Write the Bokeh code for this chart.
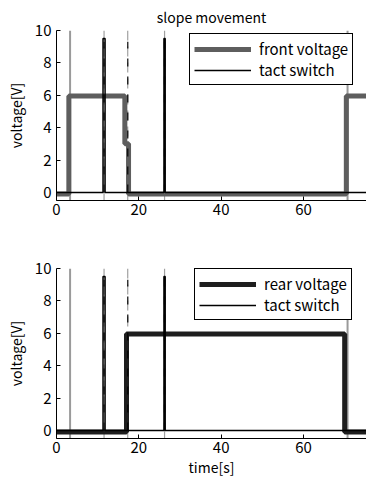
from bokeh.plotting import figure
from bokeh.layouts import column
from bokeh.models import Range1d, Legend, LegendItem, FixedTicker
from bokeh.embed import file_html
from bokeh.resources import INLINE

# ---- data ----
front_t = [0, 3.0, 3.0, 16.6, 16.6, 17.5, 17.5, 70.4, 70.4, 76]
front_v = [-0.1, -0.1, 5.95, 5.95, 3.0, 3.0, -0.1, -0.1, 5.95, 5.95]

rear_t = [0, 17.0, 17.0, 70.0, 70.0, 76]
rear_v = [-0.1, -0.1, 5.95, 5.95, -0.1, -0.1]

tact_t = [0, 11.3, 11.3, 11.8, 11.8, 26.1, 26.1, 26.4, 26.4, 76]
tact_v = [0, 0, 9.5, 9.5, 0, 0, 9.5, 9.5, 0, 0]

solid_marks = [3.3, 70.7]            # gray solid reference lines
dashed_marks = [11.55, 17.3, 26.25]  # gray dashed reference lines

x_ticks = [0, 20, 40, 60]
y_ticks = [0, 2, 4, 6, 8, 10]
x_lim = (0, 75.3)
y_lim = (-0.5, 10)

FONT = "Noto Sans CJK JP"


def make_panel(title, volt_t, volt_v, volt_label, volt_color, show_xlabel,
               height, border_bottom, legend_loc):
    p = figure(width=366, height=height, output_backend="svg", toolbar_location=None,
               x_range=Range1d(*x_lim), y_range=Range1d(*y_lim),
               min_border_left=56, min_border_right=0, min_border_top=30,
               min_border_bottom=border_bottom)
    p.frame_width = 310
    p.frame_height = 170
    p.outline_line_color = None
    p.grid.visible = False
    p.background_fill_color = "white"
    p.border_fill_color = "white"
    if title:
        p.title.text = title
        p.title.align = "center"
        p.title.text_font = FONT
        p.title.text_font_size = "14px"
        p.title.text_font_style = "normal"
        p.title.text_color = "black"
        p.title.offset = 0
        p.title.standoff = 7
    for ax in (p.xaxis[0], p.yaxis[0]):
        ax.major_tick_in = 4
        ax.major_tick_out = 0
        ax.minor_tick_line_color = None
        ax.major_label_text_font = FONT
        ax.major_label_text_font_size = "15px"
        ax.major_label_text_color = "black"
        ax.axis_line_color = "black"
        ax.major_tick_line_color = "black"
        ax.axis_label_text_font = FONT
        ax.axis_label_text_font_size = "14px"
        ax.axis_label_text_font_style = "normal"
        ax.axis_label_text_color = "black"
    p.xaxis.ticker = FixedTicker(ticks=x_ticks)
    p.yaxis.ticker = FixedTicker(ticks=y_ticks)
    p.yaxis.axis_label = "voltage[V]"
    p.yaxis.axis_label_standoff = 6
    p.yaxis.major_label_standoff = 5
    p.xaxis.major_label_standoff = 3
    if show_xlabel:
        p.xaxis.axis_label = "time[s]"
        p.xaxis.axis_label_standoff = 1

    # reference lines
    p.segment(x0=solid_marks, x1=solid_marks, y0=[y_lim[0]] * len(solid_marks),
              y1=[y_lim[1]] * len(solid_marks), line_color="#9a9a9a", line_width=2)
    p.segment(x0=dashed_marks, x1=dashed_marks, y0=[y_lim[0]] * len(dashed_marks),
              y1=[y_lim[1]] * len(dashed_marks), line_color="#a0a0a0", line_width=1.2,
              line_dash="10 6")

    rv = p.line(volt_t, volt_v, line_color=volt_color, line_width=5)
    rt = p.line(tact_t, tact_v, line_color="black", line_width=1.5)
    # dashes over pulses
    p.segment(x0=dashed_marks, x1=dashed_marks, y0=[0] * len(dashed_marks),
              y1=[9.3] * len(dashed_marks), line_color="black", line_width=1.5,
              line_dash="8 10", line_alpha=0.8)

    legend = Legend(items=[LegendItem(label=volt_label, renderers=[rv]),
                           LegendItem(label="tact switch", renderers=[rt])],
                    location=legend_loc)
    legend.border_line_color = "black"
    legend.border_line_alpha = 1
    legend.border_line_width = 1.3
    legend.background_fill_color = "white"
    legend.background_fill_alpha = 1
    legend.glyph_width = 57
    legend.glyph_height = 16
    legend.label_height = 16
    legend.spacing = 0
    legend.padding = 4
    legend.margin = 0
    legend.label_standoff = 8
    legend.label_text_font = FONT
    legend.label_text_font_size = "15px"
    legend.label_text_color = "black"
    p.add_layout(legend, "center")
    return p


p1 = make_panel("slope movement", front_t, front_v, "front voltage", "#5e5e5e", False,
                238, 38, (133, 115))
p2 = make_panel(None, rear_t, rear_v, "rear voltage", "#1e1e1e", True,
                240, 40, (138, 118))

layout = column(p1, p2, spacing=0)
open("out.html", "w").write(file_html(layout, INLINE))
